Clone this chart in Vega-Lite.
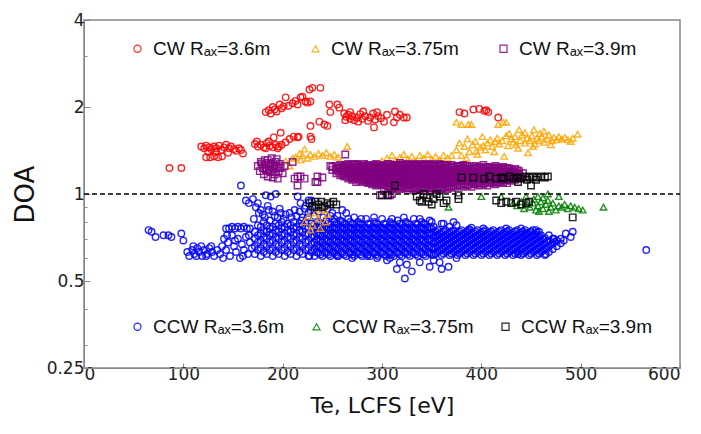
{
"$schema":"https://vega.github.io/schema/vega-lite/v6.json",
"width":596,"height":348,
"autosize":"none",
"padding":{"left":84,"top":20,"right":21,"bottom":66},
"background":"white",
"config":{
 "view":{"stroke":"#888","strokeWidth":1.5},
 "axis":{"grid":false,"domainColor":"#888","tickColor":"#888","labelColor":"#222","labelFont":"DejaVu Sans","labelFontSize":17,"titleFont":"DejaVu Sans","titleFontWeight":"normal","titleColor":"#111"},
 "legend":{"labelFont":"Liberation Sans","labelFontSize":19,"labelColor":"#111","symbolSize":50,"symbolStrokeWidth":1.2,"labelOffset":6,"padding":0}
},
"data":{"values":[
{"g":"r","x":86,"y":1.23},{"g":"r","x":98,"y":1.23},
{"g":"r","x":118,"y":1.46},{"g":"r","x":121,"y":1.44},{"g":"r","x":123,"y":1.47},{"g":"r","x":126,"y":1.45},{"g":"r","x":128,"y":1.43},{"g":"r","x":131,"y":1.46},{"g":"r","x":133,"y":1.44},{"g":"r","x":136,"y":1.47},{"g":"r","x":138,"y":1.42},{"g":"r","x":141,"y":1.45},{"g":"r","x":143,"y":1.48},{"g":"r","x":146,"y":1.44},{"g":"r","x":148,"y":1.46},{"g":"r","x":151,"y":1.43},{"g":"r","x":153,"y":1.41},{"g":"r","x":156,"y":1.44},{"g":"r","x":158,"y":1.42},{"g":"r","x":160,"y":1.38},{"g":"r","x":123,"y":1.34},{"g":"r","x":127,"y":1.34},{"g":"r","x":131,"y":1.35},{"g":"r","x":135,"y":1.34},{"g":"r","x":139,"y":1.35},{"g":"r","x":125,"y":1.40},{"g":"r","x":133,"y":1.40},{"g":"r","x":145,"y":1.39},
{"g":"r","x":172,"y":1.49},{"g":"r","x":175,"y":1.46},{"g":"r","x":178,"y":1.48},{"g":"r","x":181,"y":1.45},{"g":"r","x":184,"y":1.50},{"g":"r","x":187,"y":1.47},{"g":"r","x":190,"y":1.45},{"g":"r","x":193,"y":1.48},{"g":"r","x":196,"y":1.46},{"g":"r","x":199,"y":1.48},{"g":"r","x":174,"y":1.52},{"g":"r","x":186,"y":1.52},{"g":"r","x":191,"y":1.57},{"g":"r","x":198,"y":1.63},{"g":"r","x":207,"y":1.55},{"g":"r","x":211,"y":1.58},{"g":"r","x":215,"y":1.57},{"g":"r","x":203,"y":1.51},{"g":"r","x":183,"y":1.44},{"g":"r","x":195,"y":1.44},
{"g":"r","x":183,"y":1.92},{"g":"r","x":186,"y":1.95},{"g":"r","x":188,"y":1.90},{"g":"r","x":190,"y":2.0},{"g":"r","x":192,"y":1.96},{"g":"r","x":194,"y":1.93},{"g":"r","x":197,"y":2.04},{"g":"r","x":199,"y":1.98},{"g":"r","x":201,"y":2.01},{"g":"r","x":203,"y":2.16},{"g":"r","x":206,"y":2.02},{"g":"r","x":210,"y":2.06},{"g":"r","x":213,"y":2.10},{"g":"r","x":218,"y":2.16},{"g":"r","x":220,"y":2.17},{"g":"r","x":223,"y":2.09},{"g":"r","x":225,"y":2.07},{"g":"r","x":227,"y":2.30},{"g":"r","x":230,"y":2.33},{"g":"r","x":238,"y":2.33},{"g":"r","x":228,"y":2.09},{"g":"r","x":215,"y":2.04},
{"g":"r","x":228,"y":1.72},{"g":"r","x":237,"y":1.78},{"g":"r","x":242,"y":1.74},{"g":"r","x":245,"y":1.72},{"g":"r","x":228,"y":1.58},{"g":"r","x":229,"y":1.55},{"g":"r","x":216,"y":1.58},{"g":"r","x":247,"y":2.04},{"g":"r","x":255,"y":2.04},{"g":"r","x":257,"y":1.99},{"g":"r","x":248,"y":1.92},
{"g":"r","x":262,"y":1.90},{"g":"r","x":264,"y":1.85},{"g":"r","x":266,"y":1.88},{"g":"r","x":268,"y":1.82},{"g":"r","x":270,"y":1.86},{"g":"r","x":272,"y":1.80},{"g":"r","x":275,"y":1.84},{"g":"r","x":278,"y":1.89},{"g":"r","x":280,"y":1.82},{"g":"r","x":283,"y":1.86},{"g":"r","x":286,"y":1.79},{"g":"r","x":288,"y":1.84},{"g":"r","x":291,"y":1.90},{"g":"r","x":293,"y":1.81},{"g":"r","x":296,"y":1.86},{"g":"r","x":299,"y":1.83},{"g":"r","x":302,"y":1.78},{"g":"r","x":305,"y":1.88},{"g":"r","x":268,"y":1.92},{"g":"r","x":281,"y":1.93},{"g":"r","x":292,"y":1.70},{"g":"r","x":295,"y":1.92},{"g":"r","x":263,"y":1.80},{"g":"r","x":276,"y":1.78},{"g":"r","x":313,"y":1.93},{"g":"r","x":315,"y":1.84},{"g":"r","x":312,"y":1.77},{"g":"r","x":322,"y":1.84},{"g":"r","x":325,"y":1.84},{"g":"r","x":318,"y":1.88},
{"g":"r","x":378,"y":1.92},{"g":"r","x":383,"y":1.90},{"g":"r","x":392,"y":1.96},{"g":"r","x":398,"y":1.97},{"g":"r","x":403,"y":1.94},{"g":"r","x":405,"y":1.95},{"g":"r","x":407,"y":1.92},{"g":"r","x":417,"y":1.84},

{"g":"b","x":65,"y":0.75},{"g":"b","x":68,"y":0.74},{"g":"b","x":72,"y":0.71},{"g":"b","x":80,"y":0.72},{"g":"b","x":85,"y":0.72},{"g":"b","x":88,"y":0.71},{"g":"b","x":98,"y":0.73},{"g":"b","x":100,"y":0.69},
{"g":"b","x":104,"y":0.63},{"g":"b","x":106,"y":0.61},{"g":"b","x":109,"y":0.64},{"g":"b","x":111,"y":0.62},{"g":"b","x":114,"y":0.65},{"g":"b","x":116,"y":0.63},{"g":"b","x":119,"y":0.61},{"g":"b","x":121,"y":0.64},{"g":"b","x":124,"y":0.62},{"g":"b","x":126,"y":0.65},{"g":"b","x":129,"y":0.63},{"g":"b","x":131,"y":0.61},{"g":"b","x":134,"y":0.64},{"g":"b","x":128,"y":0.66},{"g":"b","x":110,"y":0.66},{"g":"b","x":118,"y":0.66},{"g":"b","x":113,"y":0.61},{"g":"b","x":123,"y":0.61},
{"g":"b","x":137,"y":0.62},{"g":"b","x":139,"y":0.66},{"g":"b","x":141,"y":0.70},{"g":"b","x":143,"y":0.64},{"g":"b","x":145,"y":0.68},{"g":"b","x":147,"y":0.61},{"g":"b","x":149,"y":0.72},{"g":"b","x":151,"y":0.66},{"g":"b","x":153,"y":0.63},{"g":"b","x":155,"y":0.70},{"g":"b","x":157,"y":0.60},{"g":"b","x":159,"y":0.67},{"g":"b","x":161,"y":0.64},{"g":"b","x":163,"y":0.71},{"g":"b","x":165,"y":0.62},{"g":"b","x":167,"y":0.68},{"g":"b","x":169,"y":0.65},{"g":"b","x":140,"y":0.60},{"g":"b","x":152,"y":0.69},{"g":"b","x":160,"y":0.61},{"g":"b","x":166,"y":0.72},{"g":"b","x":144,"y":0.72},
{"g":"b","x":143,"y":0.76},{"g":"b","x":146,"y":0.76},{"g":"b","x":149,"y":0.77},{"g":"b","x":152,"y":0.76},{"g":"b","x":155,"y":0.77},{"g":"b","x":158,"y":0.76},{"g":"b","x":161,"y":0.77},{"g":"b","x":164,"y":0.76},{"g":"b","x":167,"y":0.76},
{"g":"b","x":158,"y":1.07},{"g":"b","x":163,"y":0.95},{"g":"b","x":166,"y":0.93},{"g":"b","x":170,"y":0.96},{"g":"b","x":175,"y":0.93},{"g":"b","x":173,"y":0.90},{"g":"b","x":178,"y":0.88},{"g":"b","x":183,"y":0.99},{"g":"b","x":188,"y":0.98},{"g":"b","x":193,"y":1.0},{"g":"b","x":185,"y":0.91},{"g":"b","x":190,"y":0.87},{"g":"b","x":197,"y":0.89},{"g":"b","x":203,"y":0.85},{"g":"b","x":207,"y":0.86},{"g":"b","x":180,"y":0.85},{"g":"b","x":195,"y":0.83},{"g":"b","x":215,"y":0.98},{"g":"b","x":218,"y":0.93},{"g":"b","x":222,"y":0.89},{"g":"b","x":226,"y":0.95},{"g":"b","x":245,"y":0.89},{"g":"b","x":250,"y":0.86},{"g":"b","x":255,"y":0.84},{"g":"b","x":260,"y":0.88},{"g":"b","x":248,"y":0.84},
{"g":"b","x":171,"y":0.82},{"g":"b","x":176,"y":0.86},{"g":"b","x":182,"y":0.83},{"g":"b","x":186,"y":0.88},{"g":"b","x":192,"y":0.84},{"g":"b","x":198,"y":0.86},{"g":"b","x":201,"y":0.82},{"g":"b","x":209,"y":0.83},{"g":"b","x":212,"y":0.88},{"g":"b","x":219,"y":0.81},{"g":"b","x":225,"y":0.83},{"g":"b","x":228,"y":0.88},{"g":"b","x":232,"y":0.84},{"g":"b","x":236,"y":0.87},{"g":"b","x":241,"y":0.83},{"g":"b","x":252,"y":0.82},{"g":"b","x":258,"y":0.81},{"g":"b","x":266,"y":0.82},{"g":"b","x":279,"y":0.82},{"g":"b","x":292,"y":0.83},{"g":"b","x":310,"y":0.82},{"g":"b","x":322,"y":0.83},{"g":"b","x":338,"y":0.82},{"g":"b","x":350,"y":0.80},{"g":"b","x":362,"y":0.79},{"g":"b","x":375,"y":0.78},{"g":"b","x":390,"y":0.765},{"g":"b","x":402,"y":0.76},{"g":"b","x":425,"y":0.76},{"g":"b","x":440,"y":0.76},{"g":"b","x":455,"y":0.75},
{"g":"b","x":172,"y":0.62},{"g":"b","x":172,"y":0.66},{"g":"b","x":172,"y":0.70},{"g":"b","x":172,"y":0.74},
{"g":"b","x":175,"y":0.64},{"g":"b","x":175,"y":0.68},{"g":"b","x":175,"y":0.72},{"g":"b","x":175,"y":0.78},
{"g":"b","x":178,"y":0.61},{"g":"b","x":178,"y":0.65},{"g":"b","x":178,"y":0.69},{"g":"b","x":178,"y":0.73},{"g":"b","x":178,"y":0.77},
{"g":"b","x":181,"y":0.63},{"g":"b","x":181,"y":0.67},{"g":"b","x":181,"y":0.71},{"g":"b","x":181,"y":0.75},{"g":"b","x":181,"y":0.80},
{"g":"b","x":184,"y":0.62},{"g":"b","x":184,"y":0.66},{"g":"b","x":184,"y":0.70},{"g":"b","x":184,"y":0.74},{"g":"b","x":184,"y":0.78},
{"g":"b","x":187,"y":0.64},{"g":"b","x":187,"y":0.68},{"g":"b","x":187,"y":0.72},{"g":"b","x":187,"y":0.76},{"g":"b","x":187,"y":0.81},
{"g":"b","x":190,"y":0.61},{"g":"b","x":190,"y":0.65},{"g":"b","x":190,"y":0.69},{"g":"b","x":190,"y":0.73},{"g":"b","x":190,"y":0.77},
{"g":"b","x":193,"y":0.63},{"g":"b","x":193,"y":0.67},{"g":"b","x":193,"y":0.71},{"g":"b","x":193,"y":0.75},{"g":"b","x":193,"y":0.79},
{"g":"b","x":196,"y":0.62},{"g":"b","x":196,"y":0.66},{"g":"b","x":196,"y":0.70},{"g":"b","x":196,"y":0.74},{"g":"b","x":196,"y":0.78},
{"g":"b","x":199,"y":0.64},{"g":"b","x":199,"y":0.68},{"g":"b","x":199,"y":0.72},{"g":"b","x":199,"y":0.76},{"g":"b","x":199,"y":0.80},
{"g":"b","x":202,"y":0.61},{"g":"b","x":202,"y":0.65},{"g":"b","x":202,"y":0.69},{"g":"b","x":202,"y":0.73},{"g":"b","x":202,"y":0.77},
{"g":"b","x":205,"y":0.63},{"g":"b","x":205,"y":0.67},{"g":"b","x":205,"y":0.71},{"g":"b","x":205,"y":0.75},{"g":"b","x":205,"y":0.79},
{"g":"b","x":208,"y":0.62},{"g":"b","x":208,"y":0.66},{"g":"b","x":208,"y":0.70},{"g":"b","x":208,"y":0.74},{"g":"b","x":208,"y":0.78},
{"g":"b","x":211,"y":0.64},{"g":"b","x":211,"y":0.68},{"g":"b","x":211,"y":0.72},{"g":"b","x":211,"y":0.76},{"g":"b","x":211,"y":0.80},
{"g":"b","x":214,"y":0.61},{"g":"b","x":214,"y":0.65},{"g":"b","x":214,"y":0.69},{"g":"b","x":214,"y":0.73},{"g":"b","x":214,"y":0.77},{"g":"b","x":214,"y":0.84},
{"g":"b","x":217,"y":0.63},{"g":"b","x":217,"y":0.67},{"g":"b","x":217,"y":0.71},{"g":"b","x":217,"y":0.75},{"g":"b","x":217,"y":0.79},{"g":"b","x":217,"y":0.87},
{"g":"b","x":220,"y":0.62},{"g":"b","x":220,"y":0.66},{"g":"b","x":220,"y":0.70},{"g":"b","x":220,"y":0.74},{"g":"b","x":220,"y":0.78},{"g":"b","x":220,"y":0.83},
{"g":"b","x":223,"y":0.64},{"g":"b","x":223,"y":0.68},{"g":"b","x":223,"y":0.72},{"g":"b","x":223,"y":0.76},{"g":"b","x":223,"y":0.80},{"g":"b","x":223,"y":0.91},
{"g":"b","x":226,"y":0.61},{"g":"b","x":226,"y":0.65},{"g":"b","x":226,"y":0.69},{"g":"b","x":226,"y":0.73},{"g":"b","x":226,"y":0.77},{"g":"b","x":226,"y":0.86},
{"g":"b","x":229,"y":0.63},{"g":"b","x":229,"y":0.67},{"g":"b","x":229,"y":0.71},{"g":"b","x":229,"y":0.75},{"g":"b","x":229,"y":0.79},{"g":"b","x":229,"y":0.95},
{"g":"b","x":232,"y":0.61},{"g":"b","x":232,"y":0.645},{"g":"b","x":232,"y":0.68},{"g":"b","x":232,"y":0.715},{"g":"b","x":232,"y":0.75},{"g":"b","x":232,"y":0.785},
{"g":"b","x":236,"y":0.625},{"g":"b","x":236,"y":0.66},{"g":"b","x":236,"y":0.695},{"g":"b","x":236,"y":0.73},{"g":"b","x":236,"y":0.765},{"g":"b","x":236,"y":0.80},
{"g":"b","x":240,"y":0.61},{"g":"b","x":240,"y":0.645},{"g":"b","x":240,"y":0.68},{"g":"b","x":240,"y":0.715},{"g":"b","x":240,"y":0.75},{"g":"b","x":240,"y":0.785},
{"g":"b","x":244,"y":0.625},{"g":"b","x":244,"y":0.66},{"g":"b","x":244,"y":0.695},{"g":"b","x":244,"y":0.73},{"g":"b","x":244,"y":0.765},{"g":"b","x":244,"y":0.81},
{"g":"b","x":248,"y":0.61},{"g":"b","x":248,"y":0.645},{"g":"b","x":248,"y":0.68},{"g":"b","x":248,"y":0.715},{"g":"b","x":248,"y":0.75},{"g":"b","x":248,"y":0.785},
{"g":"b","x":252,"y":0.625},{"g":"b","x":252,"y":0.66},{"g":"b","x":252,"y":0.695},{"g":"b","x":252,"y":0.73},{"g":"b","x":252,"y":0.765},{"g":"b","x":252,"y":0.80},
{"g":"b","x":256,"y":0.61},{"g":"b","x":256,"y":0.645},{"g":"b","x":256,"y":0.68},{"g":"b","x":256,"y":0.715},{"g":"b","x":256,"y":0.75},{"g":"b","x":256,"y":0.785},
{"g":"b","x":260,"y":0.625},{"g":"b","x":260,"y":0.66},{"g":"b","x":260,"y":0.695},{"g":"b","x":260,"y":0.73},{"g":"b","x":260,"y":0.765},{"g":"b","x":260,"y":0.80},
{"g":"b","x":264,"y":0.61},{"g":"b","x":264,"y":0.645},{"g":"b","x":264,"y":0.68},{"g":"b","x":264,"y":0.715},{"g":"b","x":264,"y":0.75},{"g":"b","x":264,"y":0.785},{"g":"b","x":264,"y":0.86},
{"g":"b","x":268,"y":0.625},{"g":"b","x":268,"y":0.66},{"g":"b","x":268,"y":0.695},{"g":"b","x":268,"y":0.73},{"g":"b","x":268,"y":0.765},{"g":"b","x":268,"y":0.80},
{"g":"b","x":272,"y":0.61},{"g":"b","x":272,"y":0.645},{"g":"b","x":272,"y":0.68},{"g":"b","x":272,"y":0.715},{"g":"b","x":272,"y":0.75},{"g":"b","x":272,"y":0.785},{"g":"b","x":272,"y":0.83},
{"g":"b","x":276,"y":0.625},{"g":"b","x":276,"y":0.66},{"g":"b","x":276,"y":0.695},{"g":"b","x":276,"y":0.73},{"g":"b","x":276,"y":0.765},{"g":"b","x":276,"y":0.80},
{"g":"b","x":280,"y":0.61},{"g":"b","x":280,"y":0.645},{"g":"b","x":280,"y":0.68},{"g":"b","x":280,"y":0.715},{"g":"b","x":280,"y":0.75},{"g":"b","x":280,"y":0.785},
{"g":"b","x":284,"y":0.625},{"g":"b","x":284,"y":0.66},{"g":"b","x":284,"y":0.695},{"g":"b","x":284,"y":0.73},{"g":"b","x":284,"y":0.765},{"g":"b","x":284,"y":0.82},
{"g":"b","x":288,"y":0.61},{"g":"b","x":288,"y":0.645},{"g":"b","x":288,"y":0.68},{"g":"b","x":288,"y":0.715},{"g":"b","x":288,"y":0.75},{"g":"b","x":288,"y":0.785},
{"g":"b","x":292,"y":0.625},{"g":"b","x":292,"y":0.66},{"g":"b","x":292,"y":0.695},{"g":"b","x":292,"y":0.73},{"g":"b","x":292,"y":0.765},{"g":"b","x":292,"y":0.80},
{"g":"b","x":296,"y":0.61},{"g":"b","x":296,"y":0.645},{"g":"b","x":296,"y":0.68},{"g":"b","x":296,"y":0.715},{"g":"b","x":296,"y":0.75},{"g":"b","x":296,"y":0.785},
{"g":"b","x":300,"y":0.625},{"g":"b","x":300,"y":0.66},{"g":"b","x":300,"y":0.695},{"g":"b","x":300,"y":0.73},{"g":"b","x":300,"y":0.765},{"g":"b","x":300,"y":0.82},
{"g":"b","x":304,"y":0.61},{"g":"b","x":304,"y":0.645},{"g":"b","x":304,"y":0.68},{"g":"b","x":304,"y":0.715},{"g":"b","x":304,"y":0.75},{"g":"b","x":304,"y":0.785},
{"g":"b","x":308,"y":0.625},{"g":"b","x":308,"y":0.66},{"g":"b","x":308,"y":0.695},{"g":"b","x":308,"y":0.73},{"g":"b","x":308,"y":0.765},{"g":"b","x":308,"y":0.80},
{"g":"b","x":312,"y":0.61},{"g":"b","x":312,"y":0.645},{"g":"b","x":312,"y":0.68},{"g":"b","x":312,"y":0.715},{"g":"b","x":312,"y":0.75},{"g":"b","x":312,"y":0.785},
{"g":"b","x":316,"y":0.625},{"g":"b","x":316,"y":0.66},{"g":"b","x":316,"y":0.695},{"g":"b","x":316,"y":0.73},{"g":"b","x":316,"y":0.765},{"g":"b","x":316,"y":0.81},
{"g":"b","x":320,"y":0.61},{"g":"b","x":320,"y":0.645},{"g":"b","x":320,"y":0.68},{"g":"b","x":320,"y":0.715},{"g":"b","x":320,"y":0.75},{"g":"b","x":320,"y":0.785},
{"g":"b","x":324,"y":0.625},{"g":"b","x":324,"y":0.66},{"g":"b","x":324,"y":0.695},{"g":"b","x":324,"y":0.73},{"g":"b","x":324,"y":0.765},{"g":"b","x":324,"y":0.80},
{"g":"b","x":328,"y":0.61},{"g":"b","x":328,"y":0.645},{"g":"b","x":328,"y":0.68},{"g":"b","x":328,"y":0.715},{"g":"b","x":328,"y":0.75},{"g":"b","x":328,"y":0.785},
{"g":"b","x":332,"y":0.625},{"g":"b","x":332,"y":0.66},{"g":"b","x":332,"y":0.695},{"g":"b","x":332,"y":0.73},{"g":"b","x":332,"y":0.765},{"g":"b","x":332,"y":0.82},
{"g":"b","x":336,"y":0.61},{"g":"b","x":336,"y":0.645},{"g":"b","x":336,"y":0.68},{"g":"b","x":336,"y":0.715},{"g":"b","x":336,"y":0.75},{"g":"b","x":336,"y":0.785},
{"g":"b","x":340,"y":0.625},{"g":"b","x":340,"y":0.66},{"g":"b","x":340,"y":0.695},{"g":"b","x":340,"y":0.73},{"g":"b","x":340,"y":0.765},{"g":"b","x":340,"y":0.80},
{"g":"b","x":344,"y":0.61},{"g":"b","x":344,"y":0.645},{"g":"b","x":344,"y":0.68},{"g":"b","x":344,"y":0.715},{"g":"b","x":344,"y":0.75},{"g":"b","x":344,"y":0.785},
{"g":"b","x":348,"y":0.625},{"g":"b","x":348,"y":0.66},{"g":"b","x":348,"y":0.695},{"g":"b","x":348,"y":0.73},{"g":"b","x":348,"y":0.765},{"g":"b","x":348,"y":0.81},
{"g":"b","x":234,"y":0.628},{"g":"b","x":234,"y":0.663},{"g":"b","x":234,"y":0.698},{"g":"b","x":234,"y":0.733},{"g":"b","x":234,"y":0.768},
{"g":"b","x":238,"y":0.618},{"g":"b","x":238,"y":0.653},{"g":"b","x":238,"y":0.688},{"g":"b","x":238,"y":0.723},{"g":"b","x":238,"y":0.758},{"g":"b","x":238,"y":0.79},
{"g":"b","x":242,"y":0.628},{"g":"b","x":242,"y":0.663},{"g":"b","x":242,"y":0.698},{"g":"b","x":242,"y":0.733},{"g":"b","x":242,"y":0.768},
{"g":"b","x":246,"y":0.618},{"g":"b","x":246,"y":0.653},{"g":"b","x":246,"y":0.688},{"g":"b","x":246,"y":0.723},{"g":"b","x":246,"y":0.758},{"g":"b","x":246,"y":0.79},
{"g":"b","x":250,"y":0.628},{"g":"b","x":250,"y":0.663},{"g":"b","x":250,"y":0.698},{"g":"b","x":250,"y":0.733},{"g":"b","x":250,"y":0.768},
{"g":"b","x":254,"y":0.618},{"g":"b","x":254,"y":0.653},{"g":"b","x":254,"y":0.688},{"g":"b","x":254,"y":0.723},{"g":"b","x":254,"y":0.758},{"g":"b","x":254,"y":0.79},
{"g":"b","x":258,"y":0.628},{"g":"b","x":258,"y":0.663},{"g":"b","x":258,"y":0.698},{"g":"b","x":258,"y":0.733},{"g":"b","x":258,"y":0.768},
{"g":"b","x":262,"y":0.618},{"g":"b","x":262,"y":0.653},{"g":"b","x":262,"y":0.688},{"g":"b","x":262,"y":0.723},{"g":"b","x":262,"y":0.758},{"g":"b","x":262,"y":0.79},
{"g":"b","x":266,"y":0.628},{"g":"b","x":266,"y":0.663},{"g":"b","x":266,"y":0.698},{"g":"b","x":266,"y":0.733},{"g":"b","x":266,"y":0.768},
{"g":"b","x":270,"y":0.618},{"g":"b","x":270,"y":0.653},{"g":"b","x":270,"y":0.688},{"g":"b","x":270,"y":0.723},{"g":"b","x":270,"y":0.758},{"g":"b","x":270,"y":0.79},
{"g":"b","x":274,"y":0.628},{"g":"b","x":274,"y":0.663},{"g":"b","x":274,"y":0.698},{"g":"b","x":274,"y":0.733},{"g":"b","x":274,"y":0.768},
{"g":"b","x":278,"y":0.618},{"g":"b","x":278,"y":0.653},{"g":"b","x":278,"y":0.688},{"g":"b","x":278,"y":0.723},{"g":"b","x":278,"y":0.758},{"g":"b","x":278,"y":0.79},
{"g":"b","x":282,"y":0.628},{"g":"b","x":282,"y":0.663},{"g":"b","x":282,"y":0.698},{"g":"b","x":282,"y":0.733},{"g":"b","x":282,"y":0.768},
{"g":"b","x":286,"y":0.618},{"g":"b","x":286,"y":0.653},{"g":"b","x":286,"y":0.688},{"g":"b","x":286,"y":0.723},{"g":"b","x":286,"y":0.758},{"g":"b","x":286,"y":0.79},
{"g":"b","x":290,"y":0.628},{"g":"b","x":290,"y":0.663},{"g":"b","x":290,"y":0.698},{"g":"b","x":290,"y":0.733},{"g":"b","x":290,"y":0.768},
{"g":"b","x":294,"y":0.618},{"g":"b","x":294,"y":0.653},{"g":"b","x":294,"y":0.688},{"g":"b","x":294,"y":0.723},{"g":"b","x":294,"y":0.758},{"g":"b","x":294,"y":0.79},
{"g":"b","x":298,"y":0.628},{"g":"b","x":298,"y":0.663},{"g":"b","x":298,"y":0.698},{"g":"b","x":298,"y":0.733},{"g":"b","x":298,"y":0.768},
{"g":"b","x":302,"y":0.618},{"g":"b","x":302,"y":0.653},{"g":"b","x":302,"y":0.688},{"g":"b","x":302,"y":0.723},{"g":"b","x":302,"y":0.758},{"g":"b","x":302,"y":0.79},
{"g":"b","x":306,"y":0.628},{"g":"b","x":306,"y":0.663},{"g":"b","x":306,"y":0.698},{"g":"b","x":306,"y":0.733},{"g":"b","x":306,"y":0.768},
{"g":"b","x":310,"y":0.618},{"g":"b","x":310,"y":0.653},{"g":"b","x":310,"y":0.688},{"g":"b","x":310,"y":0.723},{"g":"b","x":310,"y":0.758},{"g":"b","x":310,"y":0.79},
{"g":"b","x":314,"y":0.628},{"g":"b","x":314,"y":0.663},{"g":"b","x":314,"y":0.698},{"g":"b","x":314,"y":0.733},{"g":"b","x":314,"y":0.768},
{"g":"b","x":318,"y":0.618},{"g":"b","x":318,"y":0.653},{"g":"b","x":318,"y":0.688},{"g":"b","x":318,"y":0.723},{"g":"b","x":318,"y":0.758},{"g":"b","x":318,"y":0.79},
{"g":"b","x":322,"y":0.628},{"g":"b","x":322,"y":0.663},{"g":"b","x":322,"y":0.698},{"g":"b","x":322,"y":0.733},{"g":"b","x":322,"y":0.768},
{"g":"b","x":326,"y":0.618},{"g":"b","x":326,"y":0.653},{"g":"b","x":326,"y":0.688},{"g":"b","x":326,"y":0.723},{"g":"b","x":326,"y":0.758},{"g":"b","x":326,"y":0.79},
{"g":"b","x":330,"y":0.628},{"g":"b","x":330,"y":0.663},{"g":"b","x":330,"y":0.698},{"g":"b","x":330,"y":0.733},{"g":"b","x":330,"y":0.768},
{"g":"b","x":334,"y":0.618},{"g":"b","x":334,"y":0.653},{"g":"b","x":334,"y":0.688},{"g":"b","x":334,"y":0.723},{"g":"b","x":334,"y":0.758},{"g":"b","x":334,"y":0.79},
{"g":"b","x":338,"y":0.628},{"g":"b","x":338,"y":0.663},{"g":"b","x":338,"y":0.698},{"g":"b","x":338,"y":0.733},{"g":"b","x":338,"y":0.768},
{"g":"b","x":342,"y":0.618},{"g":"b","x":342,"y":0.653},{"g":"b","x":342,"y":0.688},{"g":"b","x":342,"y":0.723},{"g":"b","x":342,"y":0.758},{"g":"b","x":342,"y":0.79},
{"g":"b","x":346,"y":0.628},{"g":"b","x":346,"y":0.663},{"g":"b","x":346,"y":0.698},{"g":"b","x":346,"y":0.733},{"g":"b","x":346,"y":0.768},
{"g":"b","x":350,"y":0.618},{"g":"b","x":350,"y":0.653},{"g":"b","x":350,"y":0.688},{"g":"b","x":350,"y":0.723},{"g":"b","x":350,"y":0.758},
{"g":"b","x":352,"y":0.615},{"g":"b","x":352,"y":0.645},{"g":"b","x":352,"y":0.675},{"g":"b","x":352,"y":0.705},{"g":"b","x":352,"y":0.735},{"g":"b","x":352,"y":0.77},
{"g":"b","x":356,"y":0.63},{"g":"b","x":356,"y":0.66},{"g":"b","x":356,"y":0.69},{"g":"b","x":356,"y":0.72},{"g":"b","x":356,"y":0.75},
{"g":"b","x":360,"y":0.615},{"g":"b","x":360,"y":0.645},{"g":"b","x":360,"y":0.675},{"g":"b","x":360,"y":0.705},{"g":"b","x":360,"y":0.735},{"g":"b","x":360,"y":0.79},
{"g":"b","x":364,"y":0.63},{"g":"b","x":364,"y":0.66},{"g":"b","x":364,"y":0.69},{"g":"b","x":364,"y":0.72},{"g":"b","x":364,"y":0.75},
{"g":"b","x":368,"y":0.615},{"g":"b","x":368,"y":0.645},{"g":"b","x":368,"y":0.675},{"g":"b","x":368,"y":0.705},{"g":"b","x":368,"y":0.735},{"g":"b","x":368,"y":0.77},
{"g":"b","x":372,"y":0.63},{"g":"b","x":372,"y":0.66},{"g":"b","x":372,"y":0.69},{"g":"b","x":372,"y":0.72},{"g":"b","x":372,"y":0.75},{"g":"b","x":372,"y":0.80},
{"g":"b","x":376,"y":0.615},{"g":"b","x":376,"y":0.645},{"g":"b","x":376,"y":0.675},{"g":"b","x":376,"y":0.705},{"g":"b","x":376,"y":0.735},
{"g":"b","x":380,"y":0.63},{"g":"b","x":380,"y":0.66},{"g":"b","x":380,"y":0.69},{"g":"b","x":380,"y":0.72},{"g":"b","x":380,"y":0.75},
{"g":"b","x":384,"y":0.615},{"g":"b","x":384,"y":0.645},{"g":"b","x":384,"y":0.675},{"g":"b","x":384,"y":0.705},{"g":"b","x":384,"y":0.735},
{"g":"b","x":388,"y":0.63},{"g":"b","x":388,"y":0.66},{"g":"b","x":388,"y":0.69},{"g":"b","x":388,"y":0.72},{"g":"b","x":388,"y":0.755},
{"g":"b","x":392,"y":0.615},{"g":"b","x":392,"y":0.645},{"g":"b","x":392,"y":0.675},{"g":"b","x":392,"y":0.705},{"g":"b","x":392,"y":0.735},
{"g":"b","x":396,"y":0.63},{"g":"b","x":396,"y":0.66},{"g":"b","x":396,"y":0.69},{"g":"b","x":396,"y":0.72},{"g":"b","x":396,"y":0.75},
{"g":"b","x":400,"y":0.615},{"g":"b","x":400,"y":0.645},{"g":"b","x":400,"y":0.675},{"g":"b","x":400,"y":0.705},{"g":"b","x":400,"y":0.735},
{"g":"b","x":404,"y":0.63},{"g":"b","x":404,"y":0.66},{"g":"b","x":404,"y":0.69},{"g":"b","x":404,"y":0.72},{"g":"b","x":404,"y":0.75},
{"g":"b","x":408,"y":0.615},{"g":"b","x":408,"y":0.645},{"g":"b","x":408,"y":0.675},{"g":"b","x":408,"y":0.705},{"g":"b","x":408,"y":0.735},
{"g":"b","x":412,"y":0.63},{"g":"b","x":412,"y":0.66},{"g":"b","x":412,"y":0.69},{"g":"b","x":412,"y":0.72},{"g":"b","x":412,"y":0.75},
{"g":"b","x":416,"y":0.615},{"g":"b","x":416,"y":0.645},{"g":"b","x":416,"y":0.675},{"g":"b","x":416,"y":0.705},{"g":"b","x":416,"y":0.735},
{"g":"b","x":420,"y":0.63},{"g":"b","x":420,"y":0.66},{"g":"b","x":420,"y":0.69},{"g":"b","x":420,"y":0.72},{"g":"b","x":420,"y":0.75},
{"g":"b","x":424,"y":0.615},{"g":"b","x":424,"y":0.645},{"g":"b","x":424,"y":0.675},{"g":"b","x":424,"y":0.705},{"g":"b","x":424,"y":0.735},
{"g":"b","x":428,"y":0.63},{"g":"b","x":428,"y":0.66},{"g":"b","x":428,"y":0.69},{"g":"b","x":428,"y":0.72},{"g":"b","x":428,"y":0.75},
{"g":"b","x":432,"y":0.615},{"g":"b","x":432,"y":0.645},{"g":"b","x":432,"y":0.675},{"g":"b","x":432,"y":0.705},{"g":"b","x":432,"y":0.735},
{"g":"b","x":436,"y":0.63},{"g":"b","x":436,"y":0.66},{"g":"b","x":436,"y":0.69},{"g":"b","x":436,"y":0.72},{"g":"b","x":436,"y":0.75},
{"g":"b","x":440,"y":0.615},{"g":"b","x":440,"y":0.645},{"g":"b","x":440,"y":0.675},{"g":"b","x":440,"y":0.705},{"g":"b","x":440,"y":0.735},
{"g":"b","x":444,"y":0.63},{"g":"b","x":444,"y":0.66},{"g":"b","x":444,"y":0.69},{"g":"b","x":444,"y":0.72},{"g":"b","x":444,"y":0.75},
{"g":"b","x":448,"y":0.615},{"g":"b","x":448,"y":0.645},{"g":"b","x":448,"y":0.675},{"g":"b","x":448,"y":0.705},{"g":"b","x":448,"y":0.735},
{"g":"b","x":452,"y":0.63},{"g":"b","x":452,"y":0.66},{"g":"b","x":452,"y":0.69},{"g":"b","x":452,"y":0.72},{"g":"b","x":452,"y":0.75},
{"g":"b","x":456,"y":0.615},{"g":"b","x":456,"y":0.645},{"g":"b","x":456,"y":0.675},{"g":"b","x":456,"y":0.705},{"g":"b","x":456,"y":0.735},
{"g":"b","x":460,"y":0.63},{"g":"b","x":460,"y":0.66},{"g":"b","x":460,"y":0.69},{"g":"b","x":460,"y":0.72},
{"g":"b","x":464,"y":0.615},{"g":"b","x":464,"y":0.645},{"g":"b","x":464,"y":0.675},{"g":"b","x":464,"y":0.705},
{"g":"b","x":468,"y":0.63},{"g":"b","x":468,"y":0.66},{"g":"b","x":468,"y":0.69},{"g":"b","x":468,"y":0.72},
{"g":"b","x":472,"y":0.645},{"g":"b","x":472,"y":0.675},{"g":"b","x":472,"y":0.70},
{"g":"b","x":476,"y":0.66},{"g":"b","x":476,"y":0.69},{"g":"b","x":480,"y":0.675},{"g":"b","x":480,"y":0.70},
{"g":"b","x":354,"y":0.622},{"g":"b","x":354,"y":0.652},{"g":"b","x":354,"y":0.682},{"g":"b","x":354,"y":0.712},{"g":"b","x":354,"y":0.742},
{"g":"b","x":358,"y":0.637},{"g":"b","x":358,"y":0.667},{"g":"b","x":358,"y":0.697},{"g":"b","x":358,"y":0.727},
{"g":"b","x":362,"y":0.622},{"g":"b","x":362,"y":0.652},{"g":"b","x":362,"y":0.682},{"g":"b","x":362,"y":0.712},{"g":"b","x":362,"y":0.742},
{"g":"b","x":366,"y":0.637},{"g":"b","x":366,"y":0.667},{"g":"b","x":366,"y":0.697},{"g":"b","x":366,"y":0.727},
{"g":"b","x":370,"y":0.622},{"g":"b","x":370,"y":0.652},{"g":"b","x":370,"y":0.682},{"g":"b","x":370,"y":0.712},{"g":"b","x":370,"y":0.742},
{"g":"b","x":374,"y":0.637},{"g":"b","x":374,"y":0.667},{"g":"b","x":374,"y":0.697},{"g":"b","x":374,"y":0.727},
{"g":"b","x":378,"y":0.622},{"g":"b","x":378,"y":0.652},{"g":"b","x":378,"y":0.682},{"g":"b","x":378,"y":0.712},{"g":"b","x":378,"y":0.742},
{"g":"b","x":382,"y":0.637},{"g":"b","x":382,"y":0.667},{"g":"b","x":382,"y":0.697},{"g":"b","x":382,"y":0.727},
{"g":"b","x":386,"y":0.622},{"g":"b","x":386,"y":0.652},{"g":"b","x":386,"y":0.682},{"g":"b","x":386,"y":0.712},{"g":"b","x":386,"y":0.742},
{"g":"b","x":390,"y":0.637},{"g":"b","x":390,"y":0.667},{"g":"b","x":390,"y":0.697},{"g":"b","x":390,"y":0.727},
{"g":"b","x":394,"y":0.622},{"g":"b","x":394,"y":0.652},{"g":"b","x":394,"y":0.682},{"g":"b","x":394,"y":0.712},{"g":"b","x":394,"y":0.742},
{"g":"b","x":398,"y":0.637},{"g":"b","x":398,"y":0.667},{"g":"b","x":398,"y":0.697},{"g":"b","x":398,"y":0.727},
{"g":"b","x":402,"y":0.622},{"g":"b","x":402,"y":0.652},{"g":"b","x":402,"y":0.682},{"g":"b","x":402,"y":0.712},{"g":"b","x":402,"y":0.742},
{"g":"b","x":406,"y":0.637},{"g":"b","x":406,"y":0.667},{"g":"b","x":406,"y":0.697},{"g":"b","x":406,"y":0.727},
{"g":"b","x":410,"y":0.622},{"g":"b","x":410,"y":0.652},{"g":"b","x":410,"y":0.682},{"g":"b","x":410,"y":0.712},{"g":"b","x":410,"y":0.742},
{"g":"b","x":414,"y":0.637},{"g":"b","x":414,"y":0.667},{"g":"b","x":414,"y":0.697},{"g":"b","x":414,"y":0.727},
{"g":"b","x":418,"y":0.622},{"g":"b","x":418,"y":0.652},{"g":"b","x":418,"y":0.682},{"g":"b","x":418,"y":0.712},{"g":"b","x":418,"y":0.742},
{"g":"b","x":422,"y":0.637},{"g":"b","x":422,"y":0.667},{"g":"b","x":422,"y":0.697},{"g":"b","x":422,"y":0.727},
{"g":"b","x":426,"y":0.622},{"g":"b","x":426,"y":0.652},{"g":"b","x":426,"y":0.682},{"g":"b","x":426,"y":0.712},{"g":"b","x":426,"y":0.742},
{"g":"b","x":430,"y":0.637},{"g":"b","x":430,"y":0.667},{"g":"b","x":430,"y":0.697},{"g":"b","x":430,"y":0.727},
{"g":"b","x":434,"y":0.622},{"g":"b","x":434,"y":0.652},{"g":"b","x":434,"y":0.682},{"g":"b","x":434,"y":0.712},{"g":"b","x":434,"y":0.742},
{"g":"b","x":438,"y":0.637},{"g":"b","x":438,"y":0.667},{"g":"b","x":438,"y":0.697},{"g":"b","x":438,"y":0.727},
{"g":"b","x":442,"y":0.622},{"g":"b","x":442,"y":0.652},{"g":"b","x":442,"y":0.682},{"g":"b","x":442,"y":0.712},{"g":"b","x":442,"y":0.742},
{"g":"b","x":446,"y":0.637},{"g":"b","x":446,"y":0.667},{"g":"b","x":446,"y":0.697},{"g":"b","x":446,"y":0.727},
{"g":"b","x":450,"y":0.622},{"g":"b","x":450,"y":0.652},{"g":"b","x":450,"y":0.682},{"g":"b","x":450,"y":0.712},{"g":"b","x":450,"y":0.742},
{"g":"b","x":454,"y":0.637},{"g":"b","x":454,"y":0.667},{"g":"b","x":454,"y":0.697},{"g":"b","x":454,"y":0.727},
{"g":"b","x":458,"y":0.622},{"g":"b","x":458,"y":0.652},{"g":"b","x":458,"y":0.682},{"g":"b","x":458,"y":0.712},
{"g":"b","x":462,"y":0.637},{"g":"b","x":462,"y":0.667},{"g":"b","x":462,"y":0.697},
{"g":"b","x":466,"y":0.652},{"g":"b","x":466,"y":0.682},{"g":"b","x":470,"y":0.667},{"g":"b","x":474,"y":0.682},
{"g":"b","x":315,"y":0.55},{"g":"b","x":325,"y":0.57},{"g":"b","x":330,"y":0.54},{"g":"b","x":323,"y":0.51},{"g":"b","x":348,"y":0.56},{"g":"b","x":358,"y":0.58},{"g":"b","x":367,"y":0.56},{"g":"b","x":375,"y":0.60},{"g":"b","x":285,"y":0.61},{"g":"b","x":295,"y":0.60},{"g":"b","x":308,"y":0.60},{"g":"b","x":255,"y":0.61},{"g":"b","x":227,"y":0.61},{"g":"b","x":338,"y":0.58},{"g":"b","x":318,"y":0.58},{"g":"b","x":352,"y":0.59},{"g":"b","x":305,"y":0.59},{"g":"b","x":270,"y":0.60},{"g":"b","x":360,"y":0.55},
{"g":"b","x":566,"y":0.64},{"g":"b","x":485,"y":0.73},{"g":"b","x":483,"y":0.69},{"g":"b","x":473,"y":0.70},{"g":"b","x":458,"y":0.74},{"g":"b","x":445,"y":0.73},{"g":"b","x":465,"y":0.62},{"g":"b","x":437,"y":0.62},{"g":"b","x":387,"y":0.75},{"g":"b","x":490,"y":0.71},{"g":"b","x":492,"y":0.74},

{"g":"o","x":203,"y":1.30},{"g":"o","x":207,"y":1.25},{"g":"o","x":210,"y":1.33},{"g":"o","x":213,"y":1.34},{"g":"o","x":217,"y":1.38},{"g":"o","x":220,"y":1.36},{"g":"o","x":222,"y":1.43},{"g":"o","x":225,"y":1.33},{"g":"o","x":228,"y":1.37},{"g":"o","x":232,"y":1.35},{"g":"o","x":236,"y":1.38},{"g":"o","x":240,"y":1.36},{"g":"o","x":244,"y":1.39},{"g":"o","x":248,"y":1.35},{"g":"o","x":252,"y":1.37},{"g":"o","x":256,"y":1.34},{"g":"o","x":265,"y":1.46},{"g":"o","x":218,"y":1.31},
{"g":"o","x":305,"y":1.33},{"g":"o","x":310,"y":1.36},{"g":"o","x":314,"y":1.31},{"g":"o","x":318,"y":1.34},{"g":"o","x":322,"y":1.37},{"g":"o","x":326,"y":1.32},{"g":"o","x":330,"y":1.35},{"g":"o","x":334,"y":1.30},{"g":"o","x":338,"y":1.36},{"g":"o","x":342,"y":1.33},{"g":"o","x":346,"y":1.37},{"g":"o","x":350,"y":1.32},{"g":"o","x":354,"y":1.35},{"g":"o","x":358,"y":1.31},{"g":"o","x":362,"y":1.36},{"g":"o","x":366,"y":1.33},{"g":"o","x":370,"y":1.36},{"g":"o","x":300,"y":1.30},
{"g":"o","x":375,"y":1.77},{"g":"o","x":380,"y":1.74},{"g":"o","x":387,"y":1.74},{"g":"o","x":390,"y":1.74},{"g":"o","x":417,"y":1.74},{"g":"o","x":422,"y":1.77},{"g":"o","x":425,"y":1.77},{"g":"o","x":438,"y":1.67},{"g":"o","x":453,"y":1.67},{"g":"o","x":463,"y":1.65},{"g":"o","x":497,"y":1.61},{"g":"o","x":490,"y":1.52},
{"g":"o","x":375,"y":1.42},{"g":"o","x":378,"y":1.50},{"g":"o","x":380,"y":1.36},{"g":"o","x":383,"y":1.46},{"g":"o","x":386,"y":1.55},{"g":"o","x":388,"y":1.40},{"g":"o","x":391,"y":1.48},{"g":"o","x":394,"y":1.52},{"g":"o","x":396,"y":1.37},{"g":"o","x":399,"y":1.45},{"g":"o","x":401,"y":1.58},{"g":"o","x":404,"y":1.42},{"g":"o","x":406,"y":1.50},{"g":"o","x":409,"y":1.54},{"g":"o","x":411,"y":1.46},{"g":"o","x":413,"y":1.40},{"g":"o","x":416,"y":1.56},{"g":"o","x":418,"y":1.49},{"g":"o","x":421,"y":1.53},{"g":"o","x":423,"y":1.35},{"g":"o","x":425,"y":1.59},{"g":"o","x":427,"y":1.47},{"g":"o","x":430,"y":1.55},{"g":"o","x":432,"y":1.51},{"g":"o","x":434,"y":1.58},{"g":"o","x":437,"y":1.44},{"g":"o","x":439,"y":1.53},{"g":"o","x":441,"y":1.60},{"g":"o","x":444,"y":1.50},{"g":"o","x":446,"y":1.56},{"g":"o","x":447,"y":1.39},{"g":"o","x":449,"y":1.53},{"g":"o","x":451,"y":1.59},{"g":"o","x":454,"y":1.49},{"g":"o","x":456,"y":1.56},{"g":"o","x":458,"y":1.53},{"g":"o","x":461,"y":1.58},{"g":"o","x":463,"y":1.51},{"g":"o","x":466,"y":1.55},{"g":"o","x":468,"y":1.60},{"g":"o","x":471,"y":1.53},{"g":"o","x":473,"y":1.57},{"g":"o","x":476,"y":1.54},{"g":"o","x":478,"y":1.58},{"g":"o","x":481,"y":1.55},{"g":"o","x":484,"y":1.57},{"g":"o","x":487,"y":1.54},{"g":"o","x":492,"y":1.56},{"g":"o","x":428,"y":1.62},{"g":"o","x":444,"y":1.63},{"g":"o","x":459,"y":1.62},{"g":"o","x":402,"y":1.47},{"g":"o","x":414,"y":1.52},{"g":"o","x":435,"y":1.48},{"g":"o","x":452,"y":1.46},{"g":"o","x":470,"y":1.48},{"g":"o","x":385,"y":1.33},{"g":"o","x":395,"y":1.41},
{"g":"o","x":222,"y":0.80},{"g":"o","x":226,"y":0.84},{"g":"o","x":230,"y":0.78},{"g":"o","x":233,"y":0.86},{"g":"o","x":236,"y":0.82},{"g":"o","x":240,"y":0.88},{"g":"o","x":243,"y":0.80},{"g":"o","x":238,"y":0.76},{"g":"o","x":228,"y":0.75},{"g":"o","x":245,"y":0.85},

{"g":"gr","x":400,"y":0.98},{"g":"gr","x":420,"y":0.98},{"g":"gr","x":445,"y":0.98},{"g":"gr","x":457,"y":0.98},{"g":"gr","x":467,"y":1.0},{"g":"gr","x":478,"y":0.98},{"g":"gr","x":367,"y":0.90},{"g":"gr","x":523,"y":0.90},
{"g":"gr","x":432,"y":0.93},{"g":"gr","x":436,"y":0.91},{"g":"gr","x":440,"y":0.94},{"g":"gr","x":443,"y":0.89},{"g":"gr","x":446,"y":0.92},{"g":"gr","x":449,"y":0.90},{"g":"gr","x":452,"y":0.93},{"g":"gr","x":455,"y":0.88},{"g":"gr","x":457,"y":0.91},{"g":"gr","x":460,"y":0.94},{"g":"gr","x":462,"y":0.89},{"g":"gr","x":465,"y":0.92},{"g":"gr","x":467,"y":0.95},{"g":"gr","x":470,"y":0.90},{"g":"gr","x":472,"y":0.93},{"g":"gr","x":475,"y":0.88},{"g":"gr","x":478,"y":0.91},{"g":"gr","x":481,"y":0.90},{"g":"gr","x":484,"y":0.92},{"g":"gr","x":487,"y":0.89},{"g":"gr","x":490,"y":0.91},{"g":"gr","x":494,"y":0.90},{"g":"gr","x":498,"y":0.89},{"g":"gr","x":502,"y":0.88},{"g":"gr","x":458,"y":0.87},{"g":"gr","x":468,"y":0.87},{"g":"gr","x":453,"y":0.96},{"g":"gr","x":462,"y":0.97},

{"g":"p","x":175,"y":1.25},{"g":"p","x":177,"y":1.20},{"g":"p","x":178,"y":1.29},{"g":"p","x":180,"y":1.23},{"g":"p","x":181,"y":1.17},{"g":"p","x":182,"y":1.31},{"g":"p","x":183,"y":1.26},{"g":"p","x":184,"y":1.21},{"g":"p","x":185,"y":1.15},{"g":"p","x":186,"y":1.28},{"g":"p","x":187,"y":1.24},{"g":"p","x":188,"y":1.19},{"g":"p","x":189,"y":1.33},{"g":"p","x":190,"y":1.26},{"g":"p","x":191,"y":1.22},{"g":"p","x":192,"y":1.17},{"g":"p","x":193,"y":1.29},{"g":"p","x":194,"y":1.24},{"g":"p","x":195,"y":1.13},{"g":"p","x":196,"y":1.20},{"g":"p","x":197,"y":1.27},{"g":"p","x":198,"y":1.23},{"g":"p","x":200,"y":1.18},{"g":"p","x":202,"y":1.25},{"g":"p","x":185,"y":1.31},{"g":"p","x":190,"y":1.14},{"g":"p","x":179,"y":1.27},{"g":"p","x":194,"y":1.32},{"g":"p","x":188,"y":1.27},{"g":"p","x":183,"y":1.22},{"g":"p","x":192,"y":1.25},{"g":"p","x":186,"y":1.20},
{"g":"p","x":210,"y":1.29},{"g":"p","x":218,"y":1.15},{"g":"p","x":212,"y":1.13},{"g":"p","x":215,"y":1.07},{"g":"p","x":215,"y":1.15},{"g":"p","x":235,"y":1.15},{"g":"p","x":240,"y":1.14},{"g":"p","x":235,"y":1.10},{"g":"p","x":263,"y":1.37},{"g":"p","x":248,"y":1.25},{"g":"p","x":310,"y":1.0},{"g":"p","x":233,"y":1.10},{"g":"p","x":298,"y":0.99},{"g":"p","x":308,"y":0.99},{"g":"p","x":222,"y":1.13},
{"g":"p","x":250,"y":1.21},{"g":"p","x":250,"y":1.24},
{"g":"p","x":254,"y":1.18},{"g":"p","x":254,"y":1.22},{"g":"p","x":254,"y":1.25},
{"g":"p","x":258,"y":1.16},{"g":"p","x":258,"y":1.20},{"g":"p","x":258,"y":1.23},{"g":"p","x":258,"y":1.26},
{"g":"p","x":262,"y":1.15},{"g":"p","x":262,"y":1.18},{"g":"p","x":262,"y":1.22},{"g":"p","x":262,"y":1.25},
{"g":"p","x":266,"y":1.13},{"g":"p","x":266,"y":1.17},{"g":"p","x":266,"y":1.20},{"g":"p","x":266,"y":1.24},{"g":"p","x":266,"y":1.27},
{"g":"p","x":270,"y":1.12},{"g":"p","x":270,"y":1.15},{"g":"p","x":270,"y":1.19},{"g":"p","x":270,"y":1.22},{"g":"p","x":270,"y":1.26},
{"g":"p","x":274,"y":1.10},{"g":"p","x":274,"y":1.14},{"g":"p","x":274,"y":1.17},{"g":"p","x":274,"y":1.21},{"g":"p","x":274,"y":1.24},{"g":"p","x":274,"y":1.27},
{"g":"p","x":278,"y":1.11},{"g":"p","x":278,"y":1.15},{"g":"p","x":278,"y":1.18},{"g":"p","x":278,"y":1.22},{"g":"p","x":278,"y":1.25},
{"g":"p","x":282,"y":1.10},{"g":"p","x":282,"y":1.13},{"g":"p","x":282,"y":1.17},{"g":"p","x":282,"y":1.20},{"g":"p","x":282,"y":1.24},{"g":"p","x":282,"y":1.27},
{"g":"p","x":286,"y":1.09},{"g":"p","x":286,"y":1.12},{"g":"p","x":286,"y":1.16},{"g":"p","x":286,"y":1.19},{"g":"p","x":286,"y":1.23},{"g":"p","x":286,"y":1.26},
{"g":"p","x":290,"y":1.08},{"g":"p","x":290,"y":1.11},{"g":"p","x":290,"y":1.14},{"g":"p","x":290,"y":1.18},{"g":"p","x":290,"y":1.21},{"g":"p","x":290,"y":1.25},
{"g":"p","x":294,"y":1.07},{"g":"p","x":294,"y":1.10},{"g":"p","x":294,"y":1.13},{"g":"p","x":294,"y":1.17},{"g":"p","x":294,"y":1.20},{"g":"p","x":294,"y":1.24},{"g":"p","x":294,"y":1.27},
{"g":"p","x":298,"y":1.08},{"g":"p","x":298,"y":1.11},{"g":"p","x":298,"y":1.15},{"g":"p","x":298,"y":1.18},{"g":"p","x":298,"y":1.22},{"g":"p","x":298,"y":1.25},
{"g":"p","x":302,"y":1.05},{"g":"p","x":302,"y":1.09},{"g":"p","x":302,"y":1.12},{"g":"p","x":302,"y":1.16},{"g":"p","x":302,"y":1.19},{"g":"p","x":302,"y":1.23},{"g":"p","x":302,"y":1.26},
{"g":"p","x":306,"y":1.06},{"g":"p","x":306,"y":1.10},{"g":"p","x":306,"y":1.13},{"g":"p","x":306,"y":1.17},{"g":"p","x":306,"y":1.20},{"g":"p","x":306,"y":1.24},{"g":"p","x":306,"y":1.27},
{"g":"p","x":310,"y":1.04},{"g":"p","x":310,"y":1.08},{"g":"p","x":310,"y":1.11},{"g":"p","x":310,"y":1.15},{"g":"p","x":310,"y":1.18},{"g":"p","x":310,"y":1.22},{"g":"p","x":310,"y":1.25},
{"g":"p","x":314,"y":1.05},{"g":"p","x":314,"y":1.09},{"g":"p","x":314,"y":1.12},{"g":"p","x":314,"y":1.16},{"g":"p","x":314,"y":1.19},{"g":"p","x":314,"y":1.23},{"g":"p","x":314,"y":1.26},
{"g":"p","x":318,"y":1.04},{"g":"p","x":318,"y":1.07},{"g":"p","x":318,"y":1.11},{"g":"p","x":318,"y":1.14},{"g":"p","x":318,"y":1.18},{"g":"p","x":318,"y":1.21},{"g":"p","x":318,"y":1.25},{"g":"p","x":318,"y":1.28},
{"g":"p","x":322,"y":1.05},{"g":"p","x":322,"y":1.09},{"g":"p","x":322,"y":1.12},{"g":"p","x":322,"y":1.16},{"g":"p","x":322,"y":1.19},{"g":"p","x":322,"y":1.23},{"g":"p","x":322,"y":1.26},
{"g":"p","x":326,"y":1.03},{"g":"p","x":326,"y":1.07},{"g":"p","x":326,"y":1.10},{"g":"p","x":326,"y":1.14},{"g":"p","x":326,"y":1.17},{"g":"p","x":326,"y":1.21},{"g":"p","x":326,"y":1.24},{"g":"p","x":326,"y":1.27},
{"g":"p","x":330,"y":1.05},{"g":"p","x":330,"y":1.08},{"g":"p","x":330,"y":1.12},{"g":"p","x":330,"y":1.15},{"g":"p","x":330,"y":1.19},{"g":"p","x":330,"y":1.22},{"g":"p","x":330,"y":1.26},
{"g":"p","x":334,"y":1.03},{"g":"p","x":334,"y":1.06},{"g":"p","x":334,"y":1.10},{"g":"p","x":334,"y":1.13},{"g":"p","x":334,"y":1.17},{"g":"p","x":334,"y":1.20},{"g":"p","x":334,"y":1.24},{"g":"p","x":334,"y":1.27},
{"g":"p","x":338,"y":1.04},{"g":"p","x":338,"y":1.08},{"g":"p","x":338,"y":1.11},{"g":"p","x":338,"y":1.15},{"g":"p","x":338,"y":1.18},{"g":"p","x":338,"y":1.22},{"g":"p","x":338,"y":1.25},
{"g":"p","x":342,"y":1.03},{"g":"p","x":342,"y":1.06},{"g":"p","x":342,"y":1.10},{"g":"p","x":342,"y":1.13},{"g":"p","x":342,"y":1.17},{"g":"p","x":342,"y":1.20},{"g":"p","x":342,"y":1.24},{"g":"p","x":342,"y":1.27},
{"g":"p","x":346,"y":1.05},{"g":"p","x":346,"y":1.08},{"g":"p","x":346,"y":1.12},{"g":"p","x":346,"y":1.15},{"g":"p","x":346,"y":1.19},{"g":"p","x":346,"y":1.22},{"g":"p","x":346,"y":1.26},
{"g":"p","x":350,"y":1.03},{"g":"p","x":350,"y":1.07},{"g":"p","x":350,"y":1.10},{"g":"p","x":350,"y":1.14},{"g":"p","x":350,"y":1.17},{"g":"p","x":350,"y":1.21},{"g":"p","x":350,"y":1.24},{"g":"p","x":350,"y":1.27},
{"g":"p","x":354,"y":1.04},{"g":"p","x":354,"y":1.08},{"g":"p","x":354,"y":1.11},{"g":"p","x":354,"y":1.15},{"g":"p","x":354,"y":1.18},{"g":"p","x":354,"y":1.22},{"g":"p","x":354,"y":1.25},
{"g":"p","x":358,"y":1.03},{"g":"p","x":358,"y":1.06},{"g":"p","x":358,"y":1.10},{"g":"p","x":358,"y":1.13},{"g":"p","x":358,"y":1.17},{"g":"p","x":358,"y":1.20},{"g":"p","x":358,"y":1.24},{"g":"p","x":358,"y":1.27},
{"g":"p","x":362,"y":1.05},{"g":"p","x":362,"y":1.08},{"g":"p","x":362,"y":1.12},{"g":"p","x":362,"y":1.15},{"g":"p","x":362,"y":1.19},{"g":"p","x":362,"y":1.22},{"g":"p","x":362,"y":1.26},
{"g":"p","x":366,"y":1.04},{"g":"p","x":366,"y":1.07},{"g":"p","x":366,"y":1.11},{"g":"p","x":366,"y":1.14},{"g":"p","x":366,"y":1.18},{"g":"p","x":366,"y":1.21},{"g":"p","x":366,"y":1.25},
{"g":"p","x":370,"y":1.05},{"g":"p","x":370,"y":1.09},{"g":"p","x":370,"y":1.12},{"g":"p","x":370,"y":1.16},{"g":"p","x":370,"y":1.19},{"g":"p","x":370,"y":1.23},{"g":"p","x":370,"y":1.26},
{"g":"p","x":374,"y":1.06},{"g":"p","x":374,"y":1.10},{"g":"p","x":374,"y":1.13},{"g":"p","x":374,"y":1.17},{"g":"p","x":374,"y":1.20},{"g":"p","x":374,"y":1.24},
{"g":"p","x":378,"y":1.07},{"g":"p","x":378,"y":1.11},{"g":"p","x":378,"y":1.14},{"g":"p","x":378,"y":1.18},{"g":"p","x":378,"y":1.21},{"g":"p","x":378,"y":1.25},
{"g":"p","x":382,"y":1.06},{"g":"p","x":382,"y":1.09},{"g":"p","x":382,"y":1.13},{"g":"p","x":382,"y":1.16},{"g":"p","x":382,"y":1.20},{"g":"p","x":382,"y":1.23},{"g":"p","x":382,"y":1.26},
{"g":"p","x":386,"y":1.07},{"g":"p","x":386,"y":1.11},{"g":"p","x":386,"y":1.14},{"g":"p","x":386,"y":1.18},{"g":"p","x":386,"y":1.21},{"g":"p","x":386,"y":1.25},
{"g":"p","x":390,"y":1.06},{"g":"p","x":390,"y":1.10},{"g":"p","x":390,"y":1.13},{"g":"p","x":390,"y":1.17},{"g":"p","x":390,"y":1.20},{"g":"p","x":390,"y":1.24},
{"g":"p","x":394,"y":1.08},{"g":"p","x":394,"y":1.11},{"g":"p","x":394,"y":1.15},{"g":"p","x":394,"y":1.18},{"g":"p","x":394,"y":1.22},{"g":"p","x":394,"y":1.25},
{"g":"p","x":398,"y":1.07},{"g":"p","x":398,"y":1.10},{"g":"p","x":398,"y":1.14},{"g":"p","x":398,"y":1.17},{"g":"p","x":398,"y":1.21},{"g":"p","x":398,"y":1.24},
{"g":"p","x":402,"y":1.08},{"g":"p","x":402,"y":1.12},{"g":"p","x":402,"y":1.15},{"g":"p","x":402,"y":1.19},{"g":"p","x":402,"y":1.22},{"g":"p","x":402,"y":1.26},
{"g":"p","x":406,"y":1.07},{"g":"p","x":406,"y":1.11},{"g":"p","x":406,"y":1.14},{"g":"p","x":406,"y":1.18},{"g":"p","x":406,"y":1.21},{"g":"p","x":406,"y":1.24},
{"g":"p","x":410,"y":1.09},{"g":"p","x":410,"y":1.12},{"g":"p","x":410,"y":1.16},{"g":"p","x":410,"y":1.19},{"g":"p","x":410,"y":1.23},
{"g":"p","x":414,"y":1.08},{"g":"p","x":414,"y":1.11},{"g":"p","x":414,"y":1.15},{"g":"p","x":414,"y":1.18},{"g":"p","x":414,"y":1.22},{"g":"p","x":414,"y":1.25},
{"g":"p","x":418,"y":1.09},{"g":"p","x":418,"y":1.13},{"g":"p","x":418,"y":1.16},{"g":"p","x":418,"y":1.20},{"g":"p","x":418,"y":1.23},
{"g":"p","x":422,"y":1.10},{"g":"p","x":422,"y":1.14},{"g":"p","x":422,"y":1.17},{"g":"p","x":422,"y":1.21},{"g":"p","x":422,"y":1.24},
{"g":"p","x":426,"y":1.09},{"g":"p","x":426,"y":1.12},{"g":"p","x":426,"y":1.16},{"g":"p","x":426,"y":1.19},{"g":"p","x":426,"y":1.23},
{"g":"p","x":430,"y":1.11},{"g":"p","x":430,"y":1.14},{"g":"p","x":430,"y":1.18},{"g":"p","x":430,"y":1.21},
{"g":"p","x":434,"y":1.12},{"g":"p","x":434,"y":1.16},{"g":"p","x":434,"y":1.19},{"g":"p","x":434,"y":1.22},
{"g":"p","x":438,"y":1.13},{"g":"p","x":438,"y":1.17},{"g":"p","x":438,"y":1.20},
{"g":"p","x":442,"y":1.14},{"g":"p","x":442,"y":1.18},
{"g":"p","x":256,"y":1.195},{"g":"p","x":256,"y":1.23},
{"g":"p","x":260,"y":1.17},{"g":"p","x":260,"y":1.205},{"g":"p","x":260,"y":1.24},
{"g":"p","x":264,"y":1.155},{"g":"p","x":264,"y":1.19},{"g":"p","x":264,"y":1.225},{"g":"p","x":264,"y":1.26},
{"g":"p","x":268,"y":1.14},{"g":"p","x":268,"y":1.175},{"g":"p","x":268,"y":1.21},{"g":"p","x":268,"y":1.245},
{"g":"p","x":272,"y":1.13},{"g":"p","x":272,"y":1.165},{"g":"p","x":272,"y":1.20},{"g":"p","x":272,"y":1.235},{"g":"p","x":272,"y":1.265},
{"g":"p","x":276,"y":1.125},{"g":"p","x":276,"y":1.16},{"g":"p","x":276,"y":1.195},{"g":"p","x":276,"y":1.23},{"g":"p","x":276,"y":1.26},
{"g":"p","x":280,"y":1.12},{"g":"p","x":280,"y":1.155},{"g":"p","x":280,"y":1.19},{"g":"p","x":280,"y":1.225},{"g":"p","x":280,"y":1.255},
{"g":"p","x":284,"y":1.11},{"g":"p","x":284,"y":1.145},{"g":"p","x":284,"y":1.18},{"g":"p","x":284,"y":1.215},{"g":"p","x":284,"y":1.25},
{"g":"p","x":288,"y":1.10},{"g":"p","x":288,"y":1.135},{"g":"p","x":288,"y":1.17},{"g":"p","x":288,"y":1.205},{"g":"p","x":288,"y":1.24},
{"g":"p","x":292,"y":1.09},{"g":"p","x":292,"y":1.125},{"g":"p","x":292,"y":1.16},{"g":"p","x":292,"y":1.195},{"g":"p","x":292,"y":1.23},{"g":"p","x":292,"y":1.26},
{"g":"p","x":296,"y":1.085},{"g":"p","x":296,"y":1.12},{"g":"p","x":296,"y":1.155},{"g":"p","x":296,"y":1.19},{"g":"p","x":296,"y":1.225},{"g":"p","x":296,"y":1.255},
{"g":"p","x":300,"y":1.075},{"g":"p","x":300,"y":1.11},{"g":"p","x":300,"y":1.145},{"g":"p","x":300,"y":1.18},{"g":"p","x":300,"y":1.215},{"g":"p","x":300,"y":1.25},
{"g":"p","x":304,"y":1.07},{"g":"p","x":304,"y":1.105},{"g":"p","x":304,"y":1.14},{"g":"p","x":304,"y":1.175},{"g":"p","x":304,"y":1.21},{"g":"p","x":304,"y":1.245},
{"g":"p","x":308,"y":1.06},{"g":"p","x":308,"y":1.095},{"g":"p","x":308,"y":1.13},{"g":"p","x":308,"y":1.165},{"g":"p","x":308,"y":1.20},{"g":"p","x":308,"y":1.235},{"g":"p","x":308,"y":1.265},
{"g":"p","x":312,"y":1.065},{"g":"p","x":312,"y":1.10},{"g":"p","x":312,"y":1.135},{"g":"p","x":312,"y":1.17},{"g":"p","x":312,"y":1.205},{"g":"p","x":312,"y":1.24},
{"g":"p","x":316,"y":1.055},{"g":"p","x":316,"y":1.09},{"g":"p","x":316,"y":1.125},{"g":"p","x":316,"y":1.16},{"g":"p","x":316,"y":1.195},{"g":"p","x":316,"y":1.23},{"g":"p","x":316,"y":1.26},
{"g":"p","x":320,"y":1.06},{"g":"p","x":320,"y":1.095},{"g":"p","x":320,"y":1.13},{"g":"p","x":320,"y":1.165},{"g":"p","x":320,"y":1.20},{"g":"p","x":320,"y":1.235},{"g":"p","x":320,"y":1.265},
{"g":"p","x":324,"y":1.05},{"g":"p","x":324,"y":1.085},{"g":"p","x":324,"y":1.12},{"g":"p","x":324,"y":1.155},{"g":"p","x":324,"y":1.19},{"g":"p","x":324,"y":1.225},{"g":"p","x":324,"y":1.255},
{"g":"p","x":328,"y":1.045},{"g":"p","x":328,"y":1.08},{"g":"p","x":328,"y":1.115},{"g":"p","x":328,"y":1.15},{"g":"p","x":328,"y":1.185},{"g":"p","x":328,"y":1.22},{"g":"p","x":328,"y":1.255},
{"g":"p","x":332,"y":1.05},{"g":"p","x":332,"y":1.085},{"g":"p","x":332,"y":1.12},{"g":"p","x":332,"y":1.155},{"g":"p","x":332,"y":1.19},{"g":"p","x":332,"y":1.225},{"g":"p","x":332,"y":1.26},
{"g":"p","x":336,"y":1.045},{"g":"p","x":336,"y":1.08},{"g":"p","x":336,"y":1.115},{"g":"p","x":336,"y":1.15},{"g":"p","x":336,"y":1.185},{"g":"p","x":336,"y":1.22},{"g":"p","x":336,"y":1.255},
{"g":"p","x":340,"y":1.05},{"g":"p","x":340,"y":1.085},{"g":"p","x":340,"y":1.12},{"g":"p","x":340,"y":1.155},{"g":"p","x":340,"y":1.19},{"g":"p","x":340,"y":1.225},{"g":"p","x":340,"y":1.26},
{"g":"p","x":344,"y":1.045},{"g":"p","x":344,"y":1.08},{"g":"p","x":344,"y":1.115},{"g":"p","x":344,"y":1.15},{"g":"p","x":344,"y":1.185},{"g":"p","x":344,"y":1.22},{"g":"p","x":344,"y":1.255},
{"g":"p","x":348,"y":1.05},{"g":"p","x":348,"y":1.085},{"g":"p","x":348,"y":1.12},{"g":"p","x":348,"y":1.155},{"g":"p","x":348,"y":1.19},{"g":"p","x":348,"y":1.225},{"g":"p","x":348,"y":1.26},
{"g":"p","x":352,"y":1.045},{"g":"p","x":352,"y":1.08},{"g":"p","x":352,"y":1.115},{"g":"p","x":352,"y":1.15},{"g":"p","x":352,"y":1.185},{"g":"p","x":352,"y":1.22},{"g":"p","x":352,"y":1.255},
{"g":"p","x":356,"y":1.05},{"g":"p","x":356,"y":1.085},{"g":"p","x":356,"y":1.12},{"g":"p","x":356,"y":1.155},{"g":"p","x":356,"y":1.19},{"g":"p","x":356,"y":1.225},{"g":"p","x":356,"y":1.26},
{"g":"p","x":360,"y":1.045},{"g":"p","x":360,"y":1.08},{"g":"p","x":360,"y":1.115},{"g":"p","x":360,"y":1.15},{"g":"p","x":360,"y":1.185},{"g":"p","x":360,"y":1.22},{"g":"p","x":360,"y":1.255},
{"g":"p","x":364,"y":1.055},{"g":"p","x":364,"y":1.09},{"g":"p","x":364,"y":1.125},{"g":"p","x":364,"y":1.16},{"g":"p","x":364,"y":1.195},{"g":"p","x":364,"y":1.23},{"g":"p","x":364,"y":1.26},
{"g":"p","x":368,"y":1.06},{"g":"p","x":368,"y":1.095},{"g":"p","x":368,"y":1.13},{"g":"p","x":368,"y":1.165},{"g":"p","x":368,"y":1.20},{"g":"p","x":368,"y":1.235},
{"g":"p","x":372,"y":1.07},{"g":"p","x":372,"y":1.105},{"g":"p","x":372,"y":1.14},{"g":"p","x":372,"y":1.175},{"g":"p","x":372,"y":1.21},{"g":"p","x":372,"y":1.245},
{"g":"p","x":376,"y":1.08},{"g":"p","x":376,"y":1.115},{"g":"p","x":376,"y":1.15},{"g":"p","x":376,"y":1.185},{"g":"p","x":376,"y":1.22},{"g":"p","x":376,"y":1.25},
{"g":"p","x":380,"y":1.075},{"g":"p","x":380,"y":1.11},{"g":"p","x":380,"y":1.145},{"g":"p","x":380,"y":1.18},{"g":"p","x":380,"y":1.215},{"g":"p","x":380,"y":1.245},
{"g":"p","x":384,"y":1.08},{"g":"p","x":384,"y":1.115},{"g":"p","x":384,"y":1.15},{"g":"p","x":384,"y":1.185},{"g":"p","x":384,"y":1.22},{"g":"p","x":384,"y":1.25},
{"g":"p","x":388,"y":1.08},{"g":"p","x":388,"y":1.115},{"g":"p","x":388,"y":1.15},{"g":"p","x":388,"y":1.185},{"g":"p","x":388,"y":1.22},
{"g":"p","x":392,"y":1.085},{"g":"p","x":392,"y":1.12},{"g":"p","x":392,"y":1.155},{"g":"p","x":392,"y":1.19},{"g":"p","x":392,"y":1.225},
{"g":"p","x":396,"y":1.09},{"g":"p","x":396,"y":1.125},{"g":"p","x":396,"y":1.16},{"g":"p","x":396,"y":1.195},{"g":"p","x":396,"y":1.23},
{"g":"p","x":400,"y":1.09},{"g":"p","x":400,"y":1.125},{"g":"p","x":400,"y":1.16},{"g":"p","x":400,"y":1.195},{"g":"p","x":400,"y":1.23},
{"g":"p","x":404,"y":1.095},{"g":"p","x":404,"y":1.13},{"g":"p","x":404,"y":1.165},{"g":"p","x":404,"y":1.20},{"g":"p","x":404,"y":1.235},
{"g":"p","x":408,"y":1.09},{"g":"p","x":408,"y":1.125},{"g":"p","x":408,"y":1.16},{"g":"p","x":408,"y":1.195},{"g":"p","x":408,"y":1.23},
{"g":"p","x":412,"y":1.10},{"g":"p","x":412,"y":1.135},{"g":"p","x":412,"y":1.17},{"g":"p","x":412,"y":1.205},{"g":"p","x":412,"y":1.235},
{"g":"p","x":416,"y":1.10},{"g":"p","x":416,"y":1.135},{"g":"p","x":416,"y":1.17},{"g":"p","x":416,"y":1.205},{"g":"p","x":416,"y":1.235},
{"g":"p","x":420,"y":1.115},{"g":"p","x":420,"y":1.15},{"g":"p","x":420,"y":1.185},{"g":"p","x":420,"y":1.22},
{"g":"p","x":424,"y":1.115},{"g":"p","x":424,"y":1.15},{"g":"p","x":424,"y":1.185},{"g":"p","x":424,"y":1.22},
{"g":"p","x":428,"y":1.125},{"g":"p","x":428,"y":1.16},{"g":"p","x":428,"y":1.195},{"g":"p","x":428,"y":1.225},
{"g":"p","x":432,"y":1.13},{"g":"p","x":432,"y":1.165},{"g":"p","x":432,"y":1.20},
{"g":"p","x":436,"y":1.14},{"g":"p","x":436,"y":1.175},{"g":"p","x":436,"y":1.21},

{"g":"k","x":380,"y":1.14},{"g":"k","x":392,"y":1.14},{"g":"k","x":403,"y":1.13},{"g":"k","x":415,"y":1.13},{"g":"k","x":423,"y":1.13},{"g":"k","x":432,"y":1.13},{"g":"k","x":313,"y":1.07},{"g":"k","x":408,"y":1.15},{"g":"k","x":420,"y":1.14},{"g":"k","x":428,"y":1.15},{"g":"k","x":436,"y":1.14},{"g":"k","x":440,"y":1.13},{"g":"k","x":444,"y":1.15},{"g":"k","x":448,"y":1.14},{"g":"k","x":452,"y":1.15},{"g":"k","x":456,"y":1.14},{"g":"k","x":460,"y":1.15},{"g":"k","x":464,"y":1.14},{"g":"k","x":467,"y":1.15},{"g":"k","x":437,"y":1.10},{"g":"k","x":450,"y":1.07},{"g":"k","x":446,"y":1.12},{"g":"k","x":455,"y":1.12},
{"g":"k","x":335,"y":0.98},{"g":"k","x":340,"y":0.94},{"g":"k","x":347,"y":0.94},{"g":"k","x":352,"y":0.96},{"g":"k","x":358,"y":0.98},{"g":"k","x":362,"y":0.93},{"g":"k","x":342,"y":1.0},{"g":"k","x":355,"y":1.0},{"g":"k","x":300,"y":0.99},{"g":"k","x":306,"y":0.99},{"g":"k","x":377,"y":0.99},{"g":"k","x":377,"y":0.96},{"g":"k","x":345,"y":0.97},{"g":"k","x":338,"y":0.95},{"g":"k","x":350,"y":0.92},{"g":"k","x":365,"y":0.95},
{"g":"k","x":415,"y":0.95},{"g":"k","x":420,"y":0.93},{"g":"k","x":425,"y":0.94},{"g":"k","x":430,"y":0.93},{"g":"k","x":435,"y":0.94},{"g":"k","x":440,"y":0.92},{"g":"k","x":445,"y":0.93},{"g":"k","x":448,"y":0.94},{"g":"k","x":492,"y":0.83},
{"g":"k","x":227,"y":0.93},{"g":"k","x":230,"y":0.91},{"g":"k","x":233,"y":0.94},{"g":"k","x":236,"y":0.92},{"g":"k","x":239,"y":0.94},{"g":"k","x":242,"y":0.91},{"g":"k","x":245,"y":0.93},{"g":"k","x":248,"y":0.92},{"g":"k","x":251,"y":0.94},{"g":"k","x":254,"y":0.92},{"g":"k","x":240,"y":0.90},{"g":"k","x":232,"y":0.90}
]},
"encoding":{
 "x":{"field":"x","type":"quantitative","scale":{"domain":[0,600],"nice":false,"zero":false},
  "axis":{"values":[0,100,200,300,400,500,600],"title":"Te, LCFS [eV]","titleFontSize":22,"titlePadding":13,"labelPadding":3,"tickSize":-5}},
 "y":{"field":"y","type":"quantitative","scale":{"type":"log","base":2,"domain":[0.25,4],"nice":false},
  "axis":{"values":[0.25,0.3,0.4,0.5,0.6,0.7,0.8,0.9,1,2,3,4],"format":"~g",
   "labelExpr":"indexof([0.25,0.5,1,2,4], datum.value) >= 0 ? datum.label : ''",
   "tickSize":{"condition":{"test":"indexof([0.25,0.5,1,2,4], datum.value) >= 0","value":-6},"value":-3},
   "title":"DOA","titleFontSize":26,"titlePadding":8,"labelPadding":6}}
},
"layer":[
 {"transform":[{"filter":"datum.g=='r'"}],
  "mark":{"type":"point","filled":false,"size":42,"strokeWidth":1.4,"opacity":0.85},
  "encoding":{
   "color":{"field":"g","type":"nominal","scale":{"domain":["r","o","p"],"range":["#ff0000","#ffa500","#800080"]},
    "legend":{"title":null,"orient":"none","legendX":44,"legendY":19,"direction":"horizontal","columns":3,"columnPadding":35,"labelExpr":"datum.label=='r' ? 'CW Rₐₓ=3.6m' : datum.label=='o' ? 'CW Rₐₓ=3.75m' : 'CW Rₐₓ=3.9m'"}},
   "shape":{"field":"g","type":"nominal","scale":{"domain":["r","o","p"],"range":["circle","triangle-up","square"]},
    "legend":{"title":null,"orient":"none","legendX":44,"legendY":19,"direction":"horizontal","columns":3,"columnPadding":35,"labelExpr":"datum.label=='r' ? 'CW Rₐₓ=3.6m' : datum.label=='o' ? 'CW Rₐₓ=3.75m' : 'CW Rₐₓ=3.9m'"}}}},
 {"transform":[{"filter":"datum.g=='b'"}],
  "mark":{"type":"point","filled":false,"size":42,"strokeWidth":1.4,"opacity":0.85},
  "encoding":{
   "color":{"field":"g","type":"nominal","scale":{"domain":["b","gr","k"],"range":["#0000ff","#008000","#000000"]},
    "legend":{"title":null,"orient":"none","legendX":44,"legendY":297,"direction":"horizontal","columns":3,"columnPadding":22,"labelExpr":"datum.label=='b' ? 'CCW Rₐₓ=3.6m' : datum.label=='gr' ? 'CCW Rₐₓ=3.75m' : 'CCW Rₐₓ=3.9m'"}},
   "shape":{"field":"g","type":"nominal","scale":{"domain":["b","gr","k"],"range":["circle","triangle-up","square"]},
    "legend":{"title":null,"orient":"none","legendX":44,"legendY":297,"direction":"horizontal","columns":3,"columnPadding":22,"labelExpr":"datum.label=='b' ? 'CCW Rₐₓ=3.6m' : datum.label=='gr' ? 'CCW Rₐₓ=3.75m' : 'CCW Rₐₓ=3.9m'"}}}},
 {"transform":[{"filter":"datum.g=='o'"}],
  "mark":{"type":"point","filled":false,"size":42,"strokeWidth":1.4,"opacity":0.85},
  "encoding":{
   "color":{"field":"g","type":"nominal","scale":{"domain":["r","o","p"],"range":["#ff0000","#ffa500","#800080"]},"legend":null},
   "shape":{"field":"g","type":"nominal","scale":{"domain":["r","o","p"],"range":["circle","triangle-up","square"]},"legend":null}}},
 {"transform":[{"filter":"datum.g=='gr'"}],
  "mark":{"type":"point","filled":false,"size":42,"strokeWidth":1.4,"opacity":0.85},
  "encoding":{
   "color":{"field":"g","type":"nominal","scale":{"domain":["b","gr","k"],"range":["#0000ff","#008000","#000000"]},"legend":null},
   "shape":{"field":"g","type":"nominal","scale":{"domain":["b","gr","k"],"range":["circle","triangle-up","square"]},"legend":null}}},
 {"transform":[{"filter":"datum.g=='p'"}],
  "mark":{"type":"point","filled":false,"size":42,"strokeWidth":1.4,"opacity":0.85},
  "encoding":{
   "color":{"field":"g","type":"nominal","scale":{"domain":["r","o","p"],"range":["#ff0000","#ffa500","#800080"]},"legend":null},
   "shape":{"field":"g","type":"nominal","scale":{"domain":["r","o","p"],"range":["circle","triangle-up","square"]},"legend":null}}},
 {"transform":[{"filter":"datum.g=='k'"}],
  "mark":{"type":"point","filled":false,"size":42,"strokeWidth":1.4,"opacity":0.85},
  "encoding":{
   "color":{"field":"g","type":"nominal","scale":{"domain":["b","gr","k"],"range":["#0000ff","#008000","#000000"]},"legend":null},
   "shape":{"field":"g","type":"nominal","scale":{"domain":["b","gr","k"],"range":["circle","triangle-up","square"]},"legend":null}}},
 {"data":{"values":[{"x":0,"x2":600,"y":1}]},
  "mark":{"type":"rule","color":"black","strokeDash":[5,3],"strokeWidth":1.5},
  "encoding":{"x2":{"field":"x2"}}}
],
"resolve":{"scale":{"color":"independent","shape":"independent"}}
}
